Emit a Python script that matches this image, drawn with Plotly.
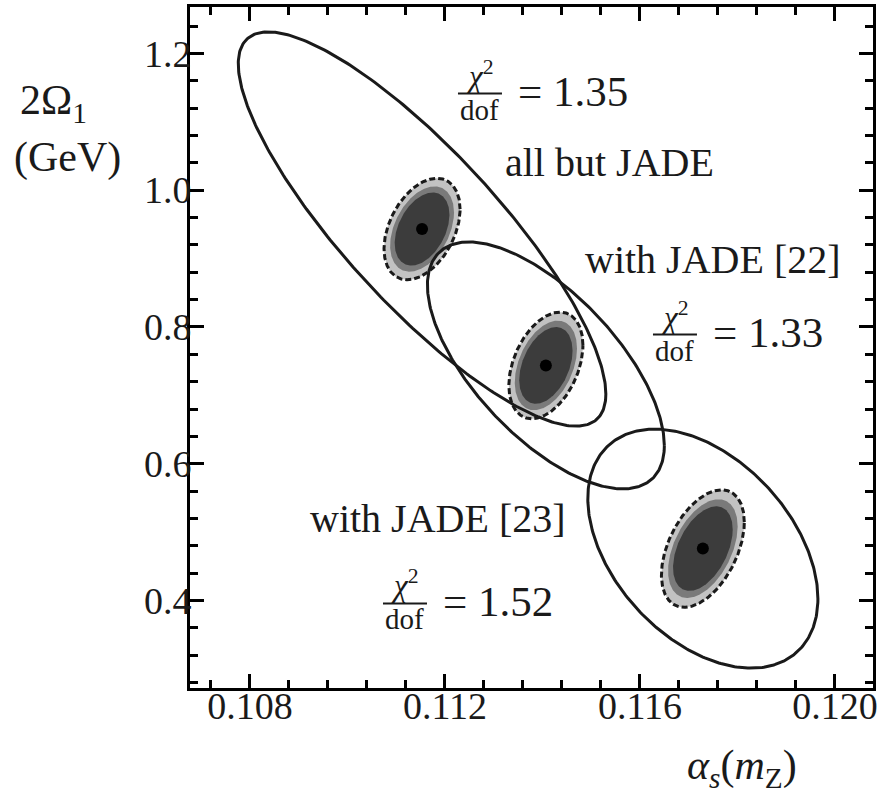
import numpy as np
import plotly.graph_objects as go

# Best-fit points: alpha_s(mZ) and 2*Omega_1 (GeV)
fit_labels = ["all but JADE", "with JADE [22]", "with JADE [23]"]
alpha_fit = [0.11153, 0.11407, 0.11729]
omega_fit = [0.9432, 0.7438, 0.4760]
chi2_dof = [1.35, 1.33, 1.52]

# Outer contours (total uncertainty): sigma_alpha, sigma_omega, correlation
outer_sig_alpha = [0.00377, 0.00243, 0.00236]
outer_sig_omega = [0.2882, 0.1805, 0.1747]
outer_rho = [-0.837, -0.65, -0.42]

# Inner contours (experimental uncertainty)
inner_sig_alpha = [0.00078, 0.00076, 0.00085]
inner_sig_omega = [0.0742, 0.0779, 0.0859]
inner_rho = [0.39, 0.38, 0.45]

x_ticks = [0.108, 0.112, 0.116, 0.120]
y_ticks = [0.4, 0.6, 0.8, 1.0, 1.2]

FONT = "Liberation Serif"
INK = "#1a1a1a"


def ellipse(cx, cy, sx, sy, rho, scale=1.0, n=361):
    t = np.linspace(0.0, 2.0 * np.pi, n)
    x = cx + scale * sx * np.cos(t)
    y = cy + scale * sy * (rho * np.cos(t) + np.sqrt(1.0 - rho ** 2) * np.sin(t))
    return x, y


fig = go.Figure()

# Inner regions: light band, darker core, dashed border
for i in range(len(alpha_fit)):
    args = (alpha_fit[i], omega_fit[i], inner_sig_alpha[i], inner_sig_omega[i], inner_rho[i])
    x, y = ellipse(*args)
    fig.add_trace(go.Scatter(x=x, y=y, mode="lines", fill="toself",
                             fillcolor="#c2c2c2", line=dict(color=INK, width=3, dash="6px,3px"),
                             hoverinfo="skip", showlegend=False))
    for s, col in [(0.84, "#7a7a7a"), (0.72, "#3c3c3c")]:
        x, y = ellipse(*args, scale=s)
        fig.add_trace(go.Scatter(x=x, y=y, mode="lines", fill="toself",
                                 fillcolor=col, line=dict(width=0),
                                 hoverinfo="skip", showlegend=False))

# Outer contours
for i in range(len(alpha_fit)):
    x, y = ellipse(alpha_fit[i], omega_fit[i], outer_sig_alpha[i], outer_sig_omega[i], outer_rho[i])
    fig.add_trace(go.Scatter(x=x, y=y, mode="lines", line=dict(color=INK, width=3),
                             hoverinfo="skip", showlegend=False))

# Best-fit points
fig.add_trace(go.Scatter(x=alpha_fit, y=omega_fit, mode="markers",
                         marker=dict(color="black", size=12), hoverinfo="skip",
                         showlegend=False))

annotations = []
shapes = []

# Data-set labels
label_pos = [(0.11319, 1.0408), (0.114831, 0.8981), (0.109190, 0.5197)]
for name, (lx, ly) in zip(fit_labels, label_pos):
    annotations.append(dict(x=lx, y=ly, xref="x", yref="y", text=name, showarrow=False,
                            xanchor="left", yanchor="middle",
                            font=dict(family=FONT, size=40, color=INK)))

# chi^2/dof fractions
frac_pos = [(0.112718, 1.1412), (0.116718, 0.7889), (0.11118, 0.3959)]
for val, (fx, fy) in zip(chi2_dof, frac_pos):
    annotations.append(dict(x=fx, y=fy, xref="x", yref="y", text="<i>χ</i><sup>2</sup>",
                            showarrow=False, xanchor="center", yanchor="bottom", yshift=-2,
                            font=dict(family=FONT, size=31, color=INK)))
    annotations.append(dict(x=fx, y=fy, xref="x", yref="y", text="dof",
                            showarrow=False, xanchor="center", yanchor="top", yshift=2,
                            font=dict(family=FONT, size=29, color=INK)))
    annotations.append(dict(x=fx, y=fy, xref="x", yref="y", text=f"= {val:.2f}",
                            showarrow=False, xanchor="left", yanchor="middle",
                            xshift=36, yshift=2,
                            font=dict(family=FONT, size=43, color=INK)))
    shapes.append(dict(type="line", xref="x", yref="y", xsizemode="pixel", xanchor=fx,
                       x0=-22, x1=22, y0=fy, y1=fy, line=dict(color=INK, width=2)))

# Axis titles
annotations.append(dict(x=-0.2518, y=0.8596, xref="paper", yref="paper",
                        text="2Ω<sub>1</sub>", showarrow=False, xanchor="left", yanchor="middle",
                        font=dict(family=FONT, size=42, color=INK)))
annotations.append(dict(x=-0.2606, y=0.7792, xref="paper", yref="paper",
                        text="(GeV)", showarrow=False, xanchor="left", yanchor="middle",
                        font=dict(family=FONT, size=42, color=INK)))
annotations.append(dict(x=0.7247, y=-0.117, xref="paper", yref="paper",
                        text="<i>α</i><sub><i>s</i></sub>(<i>m</i><sub>Z</sub>)",
                        showarrow=False, xanchor="left", yanchor="middle",
                        font=dict(family=FONT, size=42, color=INK)))

axis_common = dict(showline=True, linecolor="black", linewidth=3, mirror="allticks",
                   ticks="inside", ticklen=14, tickwidth=3, tickcolor="black",
                   showgrid=False, zeroline=False,
                   tickfont=dict(family=FONT, size=38, color=INK))

fig.update_layout(
    width=882, height=794,
    margin=dict(l=190, r=9, t=4, b=106),
    paper_bgcolor="white", plot_bgcolor="white",
    xaxis=dict(range=[0.10677, 0.12078], tickvals=x_ticks,
               ticktext=[f"{v:.3f}" for v in x_ticks], ticklabelstandoff=-18,
               minor=dict(ticks="inside", ticklen=8, tickwidth=3, tickcolor="black",
                          tick0=0.108, dtick=0.0008),
               **axis_common),
    yaxis=dict(range=[0.2722, 1.2678], tickvals=y_ticks,
               ticktext=[f"{v:.1f}" for v in y_ticks], ticklabelstandoff=-12,
               minor=dict(ticks="inside", ticklen=8, tickwidth=3, tickcolor="black",
                          tick0=0.4, dtick=0.04),
               **axis_common),
    annotations=annotations,
    shapes=shapes,
)

fig.write_html("out.html")
